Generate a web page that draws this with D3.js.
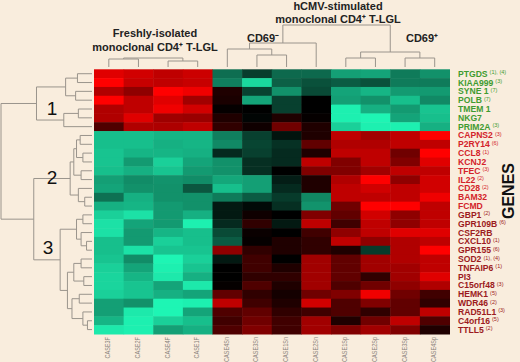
<!DOCTYPE html>
<html>
<head>
<meta charset="utf-8">
<script src="https://cdn.jsdelivr.net/npm/d3@7"></script>
<style>
  html, body { margin: 0; padding: 0; background: #f9eddd; }
  svg { display: block; font-family: "Liberation Sans", Arial, sans-serif; }
</style>
</head>
<body>
<div id="chart"></div>
<script>
const genes = ["PTGDS", "KIAA999", "SYNE 1", "POLB", "TMEM 1", "NKG7", "PRIM2A",
  "CAPNS2", "P2RY14", "CCL8", "KCNJ2", "TFEC", "IL22", "CD28", "BAM32", "FCMD",
  "GBP1", "GPR109B", "CSF2RB", "CXCL10", "GPR155", "SOD2", "TNFAIP6", "PI3",
  "C15orf48", "HEMK1", "WDR46", "RAD51L1", "C4orf16", "TTLL5"];
const notes = ["(1), (4)", "(3)", "(7)", "(7)", "", "", "(3)",
  "(3)", "(6)", "(1)", "", "(3)", "(2)", "(2)", "", "",
  "(2)", "(6)", "", "(1)", "(6)", "(1), (4)", "(1)", "",
  "(3)", "(5)", "(2)", "(3)", "(5)", "(2)"];
const geneCluster = [1, 1, 1, 1, 1, 1, 1,
  2, 2, 2, 2, 2, 2, 2, 2, 2,
  3, 3, 3, 3, 3, 3, 3, 3, 3, 3, 3, 3, 3, 3];
const samples = ["CASE3F", "CASE2F", "CASE4F", "CASE1F", "CASE4Sn", "CASE3Sn",
  "CASE1Sn", "CASE2Sn", "CASE1Sp", "CASE2Sp", "CASE3Sp", "CASE4Sp"];

// log-ratio per gene (rows) and sample (columns)
const expr = [
  [0.88, 0.82, 0.75, 0.8, -0.45, -0.25, -0.43, -0.43, -0.65, -0.67, -0.5, -0.59],
  [1.0, 0.78, 0.75, 0.78, -0.52, -0.88, -0.39, -0.33, -0.37, -0.33, -0.5, -0.5],
  [0.69, 0.56, 1.0, 0.94, 0.12, -0.27, -0.59, -0.3, -0.67, -0.74, -0.63, -0.63],
  [1.0, 0.75, 0.88, 0.63, 0.1, -0.67, -0.26, 0.0, -0.65, -0.59, -0.78, -0.56],
  [0.69, 0.75, 0.94, 0.82, 0.02, 0.0, -0.26, 0.0, -0.98, -0.72, -0.63, -0.8],
  [0.69, 0.88, 0.62, 0.6, 0.12, -0.02, 0.12, 0.02, -0.98, -1.0, -0.67, -0.78],
  [0.31, 0.69, 0.68, 0.75, 0.19, 0.06, 0.44, 0.12, -0.85, -0.98, -0.98, -0.72],
  [-0.78, -0.78, -0.74, -0.74, -0.52, -0.26, -0.08, 0.12, 0.75, 0.63, 0.75, 1.0],
  [-0.78, -0.78, -0.72, -0.74, -0.56, -0.28, -0.2, 0.38, 0.69, 0.69, 0.75, 0.75],
  [-0.8, -0.74, -0.74, -0.72, -0.17, -0.26, -0.17, 0.12, 0.75, 0.75, 0.44, 1.0],
  [-0.8, -0.63, -0.85, -0.67, -0.59, -0.19, -0.17, 0.75, 0.5, 0.75, 0.5, 0.88],
  [-0.78, -0.72, -0.8, -0.63, -0.59, -0.19, 0.0, 0.5, 0.5, 0.63, 0.75, 0.75],
  [-0.65, -0.57, -0.6, -0.57, -0.68, -0.65, -0.12, 0.12, 0.69, 1.0, 0.56, 0.82],
  [-0.67, -0.59, -0.59, -0.35, -0.78, -0.65, -0.17, 0.12, 0.75, 0.82, 0.75, 0.82],
  [-0.46, -0.72, -0.59, -0.59, -0.5, -0.37, -0.24, -0.55, 0.75, 0.75, 0.75, 0.94],
  [-0.72, -0.74, -0.63, -0.59, -0.1, -0.04, -0.19, -0.6, 0.44, 1.0, 1.0, 0.75],
  [-0.85, -0.92, -0.63, -0.72, -0.1, 0.06, 0.0, 0.5, 0.38, 0.82, 0.56, 0.75],
  [-0.92, -0.67, -0.63, -0.98, -0.17, 0.19, -0.1, 0.75, 0.25, 0.75, 0.56, 0.75],
  [-0.92, -0.63, -0.74, -0.78, -0.3, 0.04, 0.0, 0.25, 0.56, 0.75, 0.88, 0.88],
  [-0.78, -0.63, -0.85, -0.78, -0.37, 0.02, 0.12, 0.19, 0.75, 0.56, 0.69, 0.75],
  [-0.78, -0.92, -0.8, -0.8, 0.56, 0.19, 0.12, 0.19, 0.12, -0.24, 0.69, 1.0],
  [-0.8, -0.57, -1.0, -0.85, -0.1, 0.25, 0.0, 0.63, 0.38, 0.63, 0.69, 0.75],
  [-0.85, -0.67, -0.98, -0.8, 0.0, 0.25, 0.12, 0.63, 0.38, 0.63, 0.63, 0.75],
  [-0.87, -0.74, -0.95, -0.72, 0.0, 0.19, 0.19, 0.63, 0.38, 0.19, 0.63, 0.88],
  [-0.87, -0.8, -0.67, -0.95, 0.02, 0.31, 0.12, 0.63, 0.31, 0.44, 0.56, 0.69],
  [-0.85, -0.8, -0.72, -0.67, 0.38, 0.19, 0.08, 0.44, 0.5, 0.94, 0.44, 0.25],
  [-0.65, -0.59, -1.0, -0.98, 0.75, 0.25, 0.12, 0.82, 0.31, 0.5, 0.38, 0.19],
  [-0.65, -0.95, -1.0, -0.67, 0.31, 0.38, 0.19, 0.25, 0.31, 0.19, 0.38, 0.75],
  [-0.74, -0.98, -0.85, -0.78, 0.25, 0.44, 0.25, 0.63, 0.12, 0.44, 0.75, 0.31],
  [-0.95, -0.98, -0.65, -0.72, 0.31, 0.5, 0.25, 0.63, 0.5, 0.63, 0.5, 0.12]
];

// dendrograms: leaves are row / column indices, h = merge height
const rowTree = {h: 100, c: [
  {h: 61, c: [
    {h: 29, c: [{h: 16, c: [0, 1]}, {h: 18, c: [2, 3]}]},
    {h: 31, c: [{h: 15, c: [4, 5]}, 6]}]},
  {h: 64, c: [
    {h: 24, c: [
      {h: 20, c: [{h: 17, c: [{h: 13, c: [7, 8]}, {h: 10, c: [9, 10]}]}, {h: 12, c: [11, 12]}]},
      {h: 15, c: [13, {h: 8, c: [14, 15]}]}]},
    {h: 35, c: [
      {h: 17, c: [{h: 10, c: [16, 17]}, {h: 12, c: [18, {h: 6, c: [19, 20]}]}]},
      {h: 27, c: [
        {h: 20, c: [{h: 12, c: [21, 22]}, {h: 9, c: [23, 24]}]},
        {h: 22, c: [{h: 14, c: [25, 26]}, {h: 10, c: [27, {h: 5, c: [28, 29]}]}]}]}]}]}]};
const colTreeFresh = {h: 9, c: [{h: 8, c: [0, 1]}, {h: 6, c: [2, 3]}]};
const colTreeStim = {h: 42, c: [
  {h: 24, c: [{h: 18, c: [4, {h: 12, c: [5, 6]}]}, 7]},
  {h: 15, c: [{h: 9, c: [8, 9]}, {h: 9, c: [10, 11]}]}]};

const labelColor = {1: "#3f9b30", 2: "#d3232a", 3: "#9c1a20"};

const width = 520, height = 362;
const svg = d3.select("#chart").append("svg")
  .attr("width", width).attr("height", height);

const x = d3.scaleBand().domain(d3.range(samples.length)).range([94, 449.5]);
const y = d3.scaleBand().domain(d3.range(genes.length)).range([69.3, 334]);
const color = d3.scaleLinear().domain([-1, 0, 1])
  .range(["#1ef5b4", "#000000", "#ff0000"]).clamp(true);
const rowH = d3.scaleLinear().domain([0, 100]).range([92, 1]);
const colH = d3.scaleLinear().domain([0, 42]).range([67, 25]);

// heatmap cells
const cells = [];
expr.forEach((row, i) => row.forEach((v, j) => cells.push({i, j, v})));
svg.append("g").selectAll("rect")
  .data(cells).enter().append("rect")
  .attr("x", d => x(d.j))
  .attr("y", d => y(d.i))
  .attr("width", x.bandwidth() + 0.5)
  .attr("height", y.bandwidth() + 0.5)
  .attr("fill", d => color(d.v));

// elbow dendrogram from nested {h, c}
function drawTree(tree, pos, hs, horizontal) {
  const root = d3.hierarchy(tree, d => (typeof d === "number" ? null : d.c));
  root.eachAfter(n => {
    if (!n.children) { n.p = pos(n.data); n.hv = 0; }
    else { n.p = (n.children[0].p + n.children[n.children.length - 1].p) / 2; n.hv = n.data.h; }
  });
  const segs = [];
  root.each(n => {
    if (!n.children) return;
    const first = n.children[0].p, last = n.children[n.children.length - 1].p;
    segs.push([n.hv, first, n.hv, last]);
    n.children.forEach(ch => segs.push([n.hv, ch.p, ch.hv, ch.p]));
  });
  svg.append("g").selectAll("line")
    .data(segs).enter().append("line")
    .attr(horizontal ? "x1" : "y1", d => hs(d[0]))
    .attr(horizontal ? "y1" : "x1", d => d[1])
    .attr(horizontal ? "x2" : "y2", d => hs(d[2]))
    .attr(horizontal ? "y2" : "x2", d => d[3])
    .attr("stroke", "#9a948c")
    .attr("stroke-width", 1);
}
drawTree(rowTree, i => y(i) + y.bandwidth() / 2, rowH, true);
drawTree(colTreeFresh, j => x(j) + x.bandwidth() / 2, colH, false);
drawTree(colTreeStim, j => x(j) + x.bandwidth() / 2, colH, false);

// cluster numbers
const clusterLabels = [{k: "1", x: 52, y: 115}, {k: "2", x: 52, y: 184}, {k: "3", x: 48, y: 254}];
svg.append("g").selectAll("text")
  .data(clusterLabels).enter().append("text")
  .attr("x", d => d.x).attr("y", d => d.y)
  .attr("text-anchor", "middle")
  .attr("font-size", 19).attr("fill", "#111")
  .text(d => d.k);

// gene labels
const gl = svg.append("g").selectAll("text")
  .data(genes).enter().append("text")
  .attr("x", 458)
  .attr("y", (d, i) => y(i) + y.bandwidth() / 2 + 3)
  .attr("font-size", 8.6).attr("font-weight", "bold")
  .attr("fill", (d, i) => labelColor[geneCluster[i]]);
gl.append("tspan").text(d => d);
gl.append("tspan")
  .attr("dx", 2).attr("dy", -2.5)
  .attr("font-size", 5.5).attr("font-weight", "normal")
  .text((d, i) => notes[i]);

// sample labels (rotated, slightly condensed so they fit above the bottom edge)
svg.append("g").selectAll("text")
  .data(samples).enter().append("text")
  .attr("transform", (d, j) => "translate(" + (x(j) + x.bandwidth() / 2 + 1.5) + ",337) rotate(-90) scale(0.88,1)")
  .attr("text-anchor", "end")
  .attr("font-size", 6.3).attr("fill", "#8a847c")
  .text(d => d);

// group titles
const titles = [
  {t: "Freshly-isolated", x: 155, y: 37},
  {t: "monoclonal CD4⁺ T-LGL", x: 155, y: 51},
  {t: "hCMV-stimulated", x: 338, y: 10},
  {t: "monoclonal CD4⁺ T-LGL", x: 338, y: 23},
  {t: "CD69⁻", x: 263, y: 42},
  {t: "CD69⁺", x: 422, y: 42}
];
svg.append("g").selectAll("text")
  .data(titles).enter().append("text")
  .attr("x", d => d.x).attr("y", d => d.y)
  .attr("text-anchor", "middle")
  .attr("font-size", 11).attr("font-weight", "bold").attr("fill", "#222")
  .text(d => d.t);

svg.append("text")
  .attr("transform", "translate(514,191) rotate(-90)")
  .attr("text-anchor", "middle")
  .attr("font-size", 16).attr("font-weight", "bold").attr("fill", "#111")
  .text("GENES");
</script>
</body>
</html>
